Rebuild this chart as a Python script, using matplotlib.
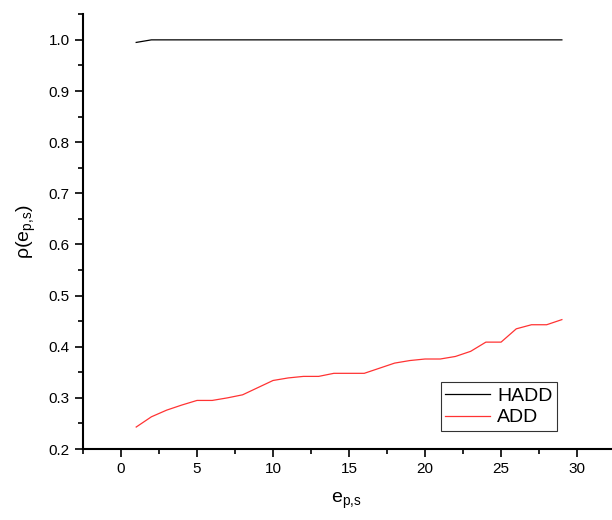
import matplotlib
matplotlib.use("Agg")
import matplotlib.pyplot as plt
from matplotlib.ticker import MultipleLocator

# rho(e_p,s) for HADD vs ADD
e_ps = list(range(1, 30))
rho_hadd = [0.995] + [1.0] * 28
rho_add = [0.243, 0.263, 0.276, 0.286, 0.295, 0.295, 0.300, 0.306, 0.320, 0.334,
           0.339, 0.342, 0.342, 0.348, 0.348, 0.348, 0.358, 0.368, 0.373, 0.376,
           0.376, 0.381, 0.391, 0.409, 0.409, 0.435, 0.443, 0.443, 0.453]

plt.rcParams["font.family"] = ["Liberation Sans", "DejaVu Sans"]
fig = plt.figure(figsize=(6.12, 5.2), dpi=100)
ax = fig.add_axes([0.1356, 0.1365, 0.862, 0.837])

ax.plot(e_ps, rho_hadd, color="black", linewidth=0.9, label="HADD")
ax.plot(e_ps, rho_add, color="#ff3333", linewidth=0.9, label="ADD")

ax.set_xlim(-2.5, 32.2)
ax.set_ylim(0.2, 1.051)
ax.xaxis.set_major_locator(MultipleLocator(5))
ax.xaxis.set_minor_locator(MultipleLocator(2.5))
ax.yaxis.set_major_locator(MultipleLocator(0.1))
ax.yaxis.set_minor_locator(MultipleLocator(0.05))
ax.tick_params(which="major", direction="out", length=6, width=1.2, labelsize=11)
ax.tick_params(which="minor", direction="out", length=3.5, width=1.2)
ax.yaxis.set_major_formatter(plt.FormatStrFormatter("%.1f"))

for side in ("top", "right"):
    ax.spines[side].set_visible(False)
for side in ("left", "bottom"):
    ax.spines[side].set_linewidth(1.5)

ax.set_xlabel(r"e$_{\mathregular{p{,}s}}$", fontsize=14, labelpad=10)
ax.set_ylabel(r"ρ(e$_{\mathregular{p{,}s}}$)", fontsize=14, labelpad=8)

leg = ax.legend(loc="lower right", bbox_to_anchor=(0.899, 0.041), fontsize=14,
                frameon=True, fancybox=False, edgecolor="black", handlelength=2.3,
                handletextpad=0.35, borderpad=0.25, labelspacing=0.2,
                borderaxespad=0)
leg.get_frame().set_linewidth(0.8)

fig.savefig("out.png", dpi=100)
